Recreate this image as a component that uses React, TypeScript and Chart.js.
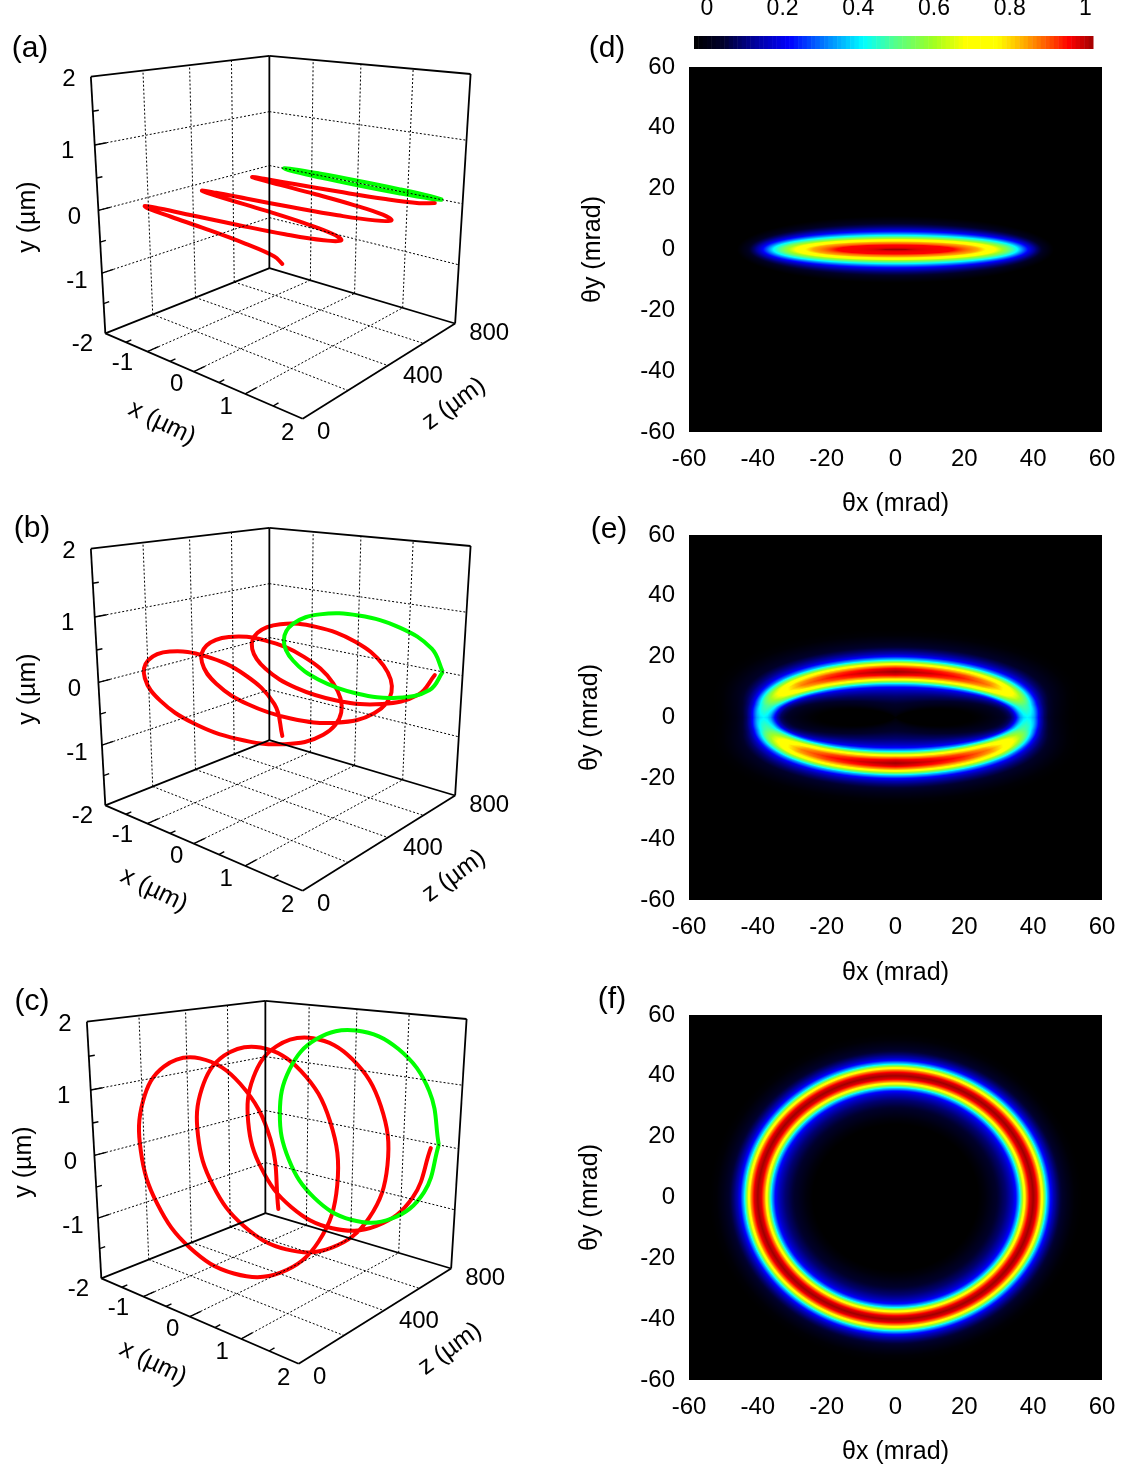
import React, { useEffect, useRef } from "react";
import { Chart, registerables } from "chart.js";
Chart.register(...registerables);

const FONT = "'Liberation Sans', Arial, sans-serif";

// ---------- trajectory data (micrometres) ----------
const zPath = [0,21,42,63,83,104,125,146,167,188,208,229,250,271,292,313,333,354,375,396,417,438,458,479,500,521,542,563,583,604,625,646,667,688,708,729,750];
const redX = [1.65,1.43,.83,0,-.83,-1.43,-1.65,-1.43,-.83,0,.83,1.43,1.65,1.43,.83,0,-.83,-1.43,-1.65,-1.43,-.83,0,.83,1.43,1.65,1.43,.83,0,-.83,-1.43,-1.65,-1.43,-.83,0,.83,1.43,1.65];
const redYa = [0,.02,.035,.04,.035,.02,0,-.02,-.035,-.04,-.035,-.02,0,.02,.035,.04,.035,.02,0,-.02,-.035,-.04,-.035,-.02,0,.02,.035,.04,.035,.02,0,-.02,-.035,-.04,-.035,-.02,0];
const redYb = [0,.34,.59,.68,.59,.34,0,-.34,-.59,-.68,-.59,-.34,0,.34,.59,.68,.59,.34,0,-.34,-.59,-.68,-.59,-.34,0,.34,.59,.68,.59,.34,0,-.34,-.59,-.68,-.59,-.34,0];
const redYc = [0,.83,1.43,1.65,1.43,.83,0,-.83,-1.43,-1.65,-1.43,-.83,0,.83,1.43,1.65,1.43,.83,0,-.83,-1.43,-1.65,-1.43,-.83,0,.83,1.43,1.65,1.43,.83,0,-.83,-1.43,-1.65,-1.43,-.83,0];
const greenX = [1.65,1.43,.83,0,-.83,-1.43,-1.65,-1.43,-.83,0,.83,1.43,1.65];
const greenYa = [0,.02,.035,.04,.035,.02,0,-.02,-.035,-.04,-.035,-.02,0];
const greenYb = [0,.34,.59,.68,.59,.34,0,-.34,-.59,-.68,-.59,-.34,0];
const greenYc = [0,.83,1.43,1.65,1.43,.83,0,-.83,-1.43,-1.65,-1.43,-.83,0];
const greenZ = 800;

// ---------- axis ticks ----------
const xTicks3d = [-1, 0, 1, 2];
const yTicks3d = [-2, -1, 0, 1, 2];
const zTickLabels3d = [0, 400, 800];
const xGrid = [-1, 0, 1];
const yGrid = [-1, 0, 1];
const zGrid = [200, 400, 600];
const xMinor = [-1.5, -0.5, 0.5, 1.5];
const yMinor = [-1.5, -0.5, 0.5, 1.5];

// ---------- far-field maps, colour fraction 0..1 ----------
const colorFrac = [0,.07,.15,.24,.33,.425,.5,.6,.68,.76,.83,.89,.94,1];
const colorHex = ["#000000","#00002a","#00009a","#0000ff","#0080ff","#00ffff","#50ff90","#a0ff20","#ffff00","#ffff00","#ffa800","#ff5000","#ff0000","#a00000"];

// (d): nested contours
const dLevel = [0,.05,.12,.24,.42,.55,.70,.83,.94,1];
const dSemiX = [46,43,41,38.5,35.5,32.5,28.6,24,17,3];
const dSemiY = [11,9,7.5,6,4.7,3.9,3.2,2.4,1.5,.2];

// (e),(f): band profile across the ring (mrad from its ridge)
const bandOffset = [-16,-14,-12,-10,-8,-7,-6,-5,-4,-3,-2,-1,0,1,2,3,4,5,6,7,8,10,12,14];
const bandValue = [0,.02,.05,.08,.12,.15,.19,.25,.39,.62,.84,.96,1,.96,.84,.62,.39,.25,.17,.12,.08,.04,.01,0];
const eAngle = [0,15,30,45,60,75,90];
const eAmplitude = [.42,.50,.70,.86,.93,.97,1];
const eSemiX = 38.3, eSemiY = 15;
const fAngle = [0,90];
const fAmplitude = [1,1];
const fSemiX = 40, fSemiY = 40;

const heatTicks = { min: -60, max: 60, step: 20 };
const barTicks = [0, .2, .4, .6, .8, 1];

// ---------- helpers ----------
function interp(xs: number[], ys: number[], x: number) {
  if (x <= xs[0]) return ys[0];
  const n = xs.length - 1;
  if (x >= xs[n]) return ys[n];
  let i = 0;
  while (x > xs[i + 1]) i++;
  return ys[i] + (ys[i + 1] - ys[i]) * (x - xs[i]) / (xs[i + 1] - xs[i]);
}
const lut: number[][] = (() => {
  const rgb = colorHex.map(h => [1, 3, 5].map(i => parseInt(h.slice(i, i + 2), 16)));
  const out: number[][] = [];
  for (let i = 0; i <= 1024; i++) {
    const f = i / 1024;
    out.push([0, 1, 2].map(c => interp(colorFrac, rgb.map(r => r[c]), f)));
  }
  return out;
})();

function ringField(a: number, b: number, angles: number[], amps: number[]) {
  return (x: number, y: number) => {
    const rho = Math.hypot(x / a, y / b);
    if (rho < 1e-6) return 0;
    const g = Math.hypot(x / (a * a * rho), y / (b * b * rho));
    const d = (rho - 1) / g;
    const phi = Math.atan2(Math.abs(y) / b, Math.abs(x) / a) * 180 / Math.PI;
    return interp(angles, amps, phi) * interp(bandOffset, bandValue, d);
  };
}
function contourField(x: number, y: number) {
  let inside = 0;
  let prev = Math.hypot(x / dSemiX[0], y / dSemiY[0]);
  if (prev >= 1) return 0;
  for (let i = 1; i < dLevel.length; i++) {
    const r = Math.hypot(x / dSemiX[i], y / dSemiY[i]);
    if (r >= 1) {
      const t = (1 - prev) / (r - prev);
      return dLevel[i - 1] + (dLevel[i] - dLevel[i - 1]) * t;
    }
    prev = r;
    inside = dLevel[i];
  }
  return inside;
}

// view of the 3D box, fitted to the drawn frame of panel (a)
const viewWorld = [[-2,-2,0],[2,-2,0],[2,-2,800],[-2,-2,800],[-2,2,0],[-2,2,800],[2,2,800],[2,-2,400],[0,-2,0],[-2,0,0],[-2,-2,400],[0,-2,800]];
const viewImage = [[105,334],[301.7,419.3],[455,322.7],[269.3,267.7],[90,76.7],[269.3,56],[470.7,74],[388.3,365],[194.3,371.7],[100,210],[195,296.7],[355,295]];
function fitView() {
  const A: number[][] = [];
  const B: number[] = [];
  viewWorld.forEach((w, i) => {
    const X = w[0] / 2, Y = w[1] / 2, Z = w[2] / 400;
    const u = viewImage[i][0] / 100, v = viewImage[i][1] / 100;
    A.push([X,Y,Z,1,0,0,0,0,-u*X,-u*Y,-u*Z]); B.push(u);
    A.push([0,0,0,0,X,Y,Z,1,-v*X,-v*Y,-v*Z]); B.push(v);
  });
  const n = 11;
  const M: number[][] = [];
  for (let r = 0; r < n; r++) {
    const row: number[] = [];
    for (let c = 0; c < n; c++) row.push(A.reduce((s, a) => s + a[r] * a[c], 0));
    row.push(A.reduce((s, a, k) => s + a[r] * B[k], 0));
    M.push(row);
  }
  for (let c = 0; c < n; c++) {
    let p = c;
    for (let r = c + 1; r < n; r++) if (Math.abs(M[r][c]) > Math.abs(M[p][c])) p = r;
    [M[c], M[p]] = [M[p], M[c]];
    for (let r = 0; r < n; r++) {
      if (r === c) continue;
      const f = M[r][c] / M[c][c];
      for (let k = c; k <= n; k++) M[r][k] -= f * M[c][k];
    }
  }
  return M.map((row, i) => row[n] / row[i]);
}
const P = fitView();
function project(x: number, y: number, z: number) {
  const X = x / 2, Y = y / 2, Z = z / 400;
  const w = P[8] * X + P[9] * Y + P[10] * Z + 1;
  return {
    x: 100 * (P[0] * X + P[1] * Y + P[2] * Z + P[3]) / w,
    y: 100 * (P[4] * X + P[5] * Y + P[6] * Z + P[7]) / w,
  };
}

function seg(a: number[], b: number[], style: any) {
  return {
    data: [project(a[0], a[1], a[2]), project(b[0], b[1], b[2])],
    showLine: true, pointRadius: 0, borderColor: "#000", tension: 0, ...style,
  };
}

type Panel3D = {
  label: string; labelAt: number[]; left: number; top: number;
  redY: number[]; greenY: number[]; xTitleAt: number[];
};

const W3 = 540, H3 = 470;
const yLabelOff = [[-23,11],[-25,8],[-24,7],[-27,6],[-22,3]];
const xLabelOff = [[-25,12],[-17,13],[-19,13],[-15,15]];
const zLabelOff = [[21,14],[35,11],[34,10]];

function Box3D({ p }: { p: Panel3D }) {
  const ref = useRef<HTMLCanvasElement>(null);
  useEffect(() => {
    const dot = { borderWidth: 1, borderDash: [2, 2] };
    const solid = { borderWidth: 1.8 };
    const tick = { borderWidth: 1.4 };
    const ds: any[] = [];
    for (const y of yGrid) {
      ds.push(seg([-2, y, 0], [-2, y, 800], dot));
      ds.push(seg([-2, y, 800], [2, y, 800], dot));
      ds.push(seg([-2, y, 0], [-2, y, 45], tick));
    }
    for (const z of zGrid) {
      ds.push(seg([-2, -2, z], [-2, 2, z], dot));
      ds.push(seg([-2, -2, z], [2, -2, z], dot));
    }
    for (const x of xGrid) {
      ds.push(seg([x, -2, 800], [x, 2, 800], dot));
      ds.push(seg([x, -2, 0], [x, -2, 800], dot));
      ds.push(seg([x, -2, 0], [x, -2, 45], tick));
    }
    for (const x of xMinor) ds.push(seg([x, -2, 0], [x, -2, 22], tick));
    for (const y of yMinor) ds.push(seg([-2, y, 0], [-2, y, 22], tick));
    const frame = [
      [[-2,2,0],[-2,2,800]],[[-2,2,800],[2,2,800]],[[-2,-2,0],[-2,2,0]],[[-2,-2,800],[-2,2,800]],
      [[2,-2,800],[2,2,800]],[[-2,-2,0],[-2,-2,800]],[[-2,-2,800],[2,-2,800]],[[-2,-2,0],[2,-2,0]],[[2,-2,0],[2,-2,800]],
    ];
    for (const f of frame) ds.push(seg(f[0], f[1], solid));
    ds.push({
      data: greenX.map((x, i) => project(x, p.greenY[i], greenZ)),
      showLine: true, pointRadius: 0, borderColor: "#00ff00", borderWidth: 4, tension: 0.4,
    });
    ds.push({
      data: zPath.map((z, i) => project(redX[i], p.redY[i], z)),
      showLine: true, pointRadius: 0, borderColor: "#ff0000", borderWidth: 4, tension: 0.4, borderCapStyle: "round",
    });
    const text = {
      id: "boxText",
      afterDraw(c: any) {
        const g = c.ctx;
        const sx = c.scales.x, sy = c.scales.y;
        const put = (s: string, x: number, y: number, size: number, rot = 0) => {
          g.save();
          g.translate(x, y);
          g.rotate(rot * Math.PI / 180);
          g.font = `${size}px ${FONT}`;
          g.fillStyle = "#000";
          g.textAlign = "center";
          g.textBaseline = "middle";
          g.fillText(s, 0, 0);
          g.restore();
        };
        const at = (w: number[], off: number[]) => {
          const q = project(w[0], w[1], w[2]);
          return [sx.getPixelForValue(q.x) + off[0], sy.getPixelForValue(q.y) + off[1]];
        };
        yTicks3d.forEach((v, i) => { const q = at([-2, v, 0], yLabelOff[i]); put(String(v), q[0], q[1], 24); });
        xTicks3d.forEach((v, i) => { const q = at([v, -2, 0], xLabelOff[i]); put(String(v), q[0], q[1], 24); });
        zTickLabels3d.forEach((v, i) => { const q = at([2, -2, v], zLabelOff[i]); put(String(v), q[0], q[1], 24); });
        put("y (µm)", 28, 217, 25, -90);
        put("x (µm)", p.xTitleAt[0], p.xTitleAt[1], 25, 26);
        put("z (µm)", 454, 404, 25, -36);
        put(p.label, p.labelAt[0], p.labelAt[1], 30);
      },
    };
    const chart = new Chart(ref.current!, {
      type: "scatter",
      data: { datasets: ds },
      options: {
        responsive: false, animation: false,
        layout: { padding: 0, autoPadding: false },
        plugins: { legend: { display: false }, tooltip: { enabled: false } },
        scales: {
          x: { type: "linear", display: false, min: 0, max: W3 },
          y: { type: "linear", display: false, min: 0, max: H3, reverse: true },
        },
      },
      plugins: [text],
    } as any);
    return () => chart.destroy();
  }, []);
  return <canvas ref={ref} width={W3} height={H3} style={{ position: "absolute", left: p.left, top: p.top, display: "block" }} />;
}

type HeatPanel = {
  label: string; labelAt: number[]; titleX: number; canvasTop: number; plotTop: number; plotBottom: number; titleBottom: number;
  field: (x: number, y: number) => number;
};
const PLOT_LEFT = 689, PLOT_RIGHT = 1102;

function Heat({ p }: { p: HeatPanel }) {
  const ref = useRef<HTMLCanvasElement>(null);
  const left = p.titleX - 15;
  const width = 1123 - left;
  const height = p.titleBottom - p.canvasTop;
  useEffect(() => {
    const paint = {
      id: "heat",
      beforeDatasetsDraw(c: any) {
        const { left: l, top: t, width: w, height: h } = c.chartArea;
        const L = Math.round(l), T = Math.round(t), W = Math.round(w), H = Math.round(h);
        const img = c.ctx.createImageData(W, H);
        for (let j = 0; j < H; j++) {
          const yv = c.scales.y.getValueForPixel(T + j + 0.5);
          for (let i = 0; i < W; i++) {
            const xv = c.scales.x.getValueForPixel(L + i + 0.5);
            const col = lut[Math.max(0, Math.min(1024, Math.round(p.field(xv, yv) * 1024)))];
            const k = (j * W + i) * 4;
            img.data[k] = col[0]; img.data[k + 1] = col[1]; img.data[k + 2] = col[2]; img.data[k + 3] = 255;
          }
        }
        c.ctx.putImageData(img, L, T);
      },
      afterDraw(c: any) {
        const g = c.ctx;
        g.save();
        g.font = `30px ${FONT}`;
        g.fillStyle = "#000";
        g.textAlign = "center";
        g.textBaseline = "middle";
        g.fillText(p.label, p.labelAt[0] - left, p.labelAt[1] - p.canvasTop);
        g.restore();
      },
    };
    const tickFont = { family: FONT, size: 24 };
    const titleFont = { family: FONT, size: 25 };
    const chart = new Chart(ref.current!, {
      type: "scatter",
      data: { datasets: [{ data: [] }] },
      options: {
        responsive: false, animation: false,
        layout: { padding: { top: p.plotTop - p.canvasTop, right: 1123 - PLOT_RIGHT, left: 0, bottom: 0 }, autoPadding: false },
        plugins: { legend: { display: false }, tooltip: { enabled: false } },
        scales: {
          x: {
            type: "linear", min: heatTicks.min, max: heatTicks.max, position: "bottom",
            grid: { display: false }, border: { display: false },
            ticks: { stepSize: heatTicks.step, font: tickFont, color: "#000", padding: 5, maxRotation: 0, autoSkip: false },
            title: { display: true, text: "θx (mrad)", font: titleFont, color: "#000", padding: { top: 0, bottom: 0 } },
            afterFit: (s: any) => { s.height = p.titleBottom - p.plotBottom; },
          },
          y: {
            type: "linear", min: heatTicks.min, max: heatTicks.max, position: "left",
            grid: { display: false }, border: { display: false },
            ticks: { stepSize: heatTicks.step, font: tickFont, color: "#000", padding: 6, autoSkip: false },
            title: { display: true, text: "θy (mrad)", font: titleFont, color: "#000", padding: { top: 0, bottom: 0 } },
            afterFit: (s: any) => { s.width = PLOT_LEFT - left; },
          },
        },
      },
      plugins: [paint],
    } as any);
    return () => chart.destroy();
  }, []);
  return <canvas ref={ref} width={width} height={height} style={{ position: "absolute", left, top: p.canvasTop, display: "block" }} />;
}

const BAR_LEFT = 694, BAR_RIGHT = 1093, BAR_TOP = 36, BAR_BOTTOM = 49;
function ColorBar() {
  const ref = useRef<HTMLCanvasElement>(null);
  useEffect(() => {
    const paint = {
      id: "bar",
      beforeDatasetsDraw(c: any) {
        const { left: l, top: t, width: w, height: h } = c.chartArea;
        const steps = 92;
        for (let i = 0; i < steps; i++) {
          const col = lut[Math.round((i + 0.5) / steps * 1024)];
          c.ctx.fillStyle = `rgb(${col.map(Math.round).join(",")})`;
          c.ctx.fillRect(l + i * w / steps, t, w / steps + 0.5, h);
        }
      },
    };
    const chart = new Chart(ref.current!, {
      type: "scatter",
      data: { datasets: [{ data: [] }] },
      options: {
        responsive: false, animation: false,
        layout: { padding: { left: BAR_LEFT - 660, right: 1123 - BAR_RIGHT, top: 0, bottom: 0 }, autoPadding: false },
        plugins: { legend: { display: false }, tooltip: { enabled: false } },
        scales: {
          x: {
            type: "linear", position: "top", min: -0.034, max: 1.02,
            grid: { display: false }, border: { display: false },
            afterBuildTicks: (s: any) => { s.ticks = barTicks.map(v => ({ value: v })); },
            ticks: { font: { family: FONT, size: 23 }, color: "#000", padding: 6, maxRotation: 0, autoSkip: false, callback: (v: any) => String(+(+v).toFixed(1)) },
            afterFit: (s: any) => { s.height = BAR_TOP; },
          },
          y: { type: "linear", display: false, min: 0, max: 1 },
        },
      },
      plugins: [paint],
    } as any);
    return () => chart.destroy();
  }, []);
  return <canvas ref={ref} width={463} height={BAR_BOTTOM} style={{ position: "absolute", left: 660, top: 0, display: "block" }} />;
}

const panels3d: Panel3D[] = [
  { label: "(a)", labelAt: [30, 49], left: 0, top: 0, redY: redYa, greenY: greenYa, xTitleAt: [162, 423] },
  { label: "(b)", labelAt: [32, 57], left: 0, top: 472, redY: redYb, greenY: greenYb, xTitleAt: [154, 418] },
  { label: "(c)", labelAt: [36, 57], left: -4, top: 945, redY: redYc, greenY: greenYc, xTitleAt: [157, 418] },
];
const heatPanels: HeatPanel[] = [
  { label: "(d)", labelAt: [607, 49], titleX: 593, canvasTop: 30, plotTop: 67, plotBottom: 432, titleBottom: 519, field: contourField },
  { label: "(e)", labelAt: [609, 530], titleX: 590, canvasTop: 505, plotTop: 535, plotBottom: 900, titleBottom: 988, field: ringField(eSemiX, eSemiY, eAngle, eAmplitude) },
  { label: "(f)", labelAt: [612, 1000], titleX: 590, canvasTop: 985, plotTop: 1015, plotBottom: 1380, titleBottom: 1467, field: ringField(fSemiX, fSemiY, fAngle, fAmplitude) },
];

export default function App() {
  return (
    <div>
      {panels3d.map(p => <Box3D key={p.label} p={p} />)}
      {heatPanels.map(p => <Heat key={p.label} p={p} />)}
      <ColorBar />
    </div>
  );
}
